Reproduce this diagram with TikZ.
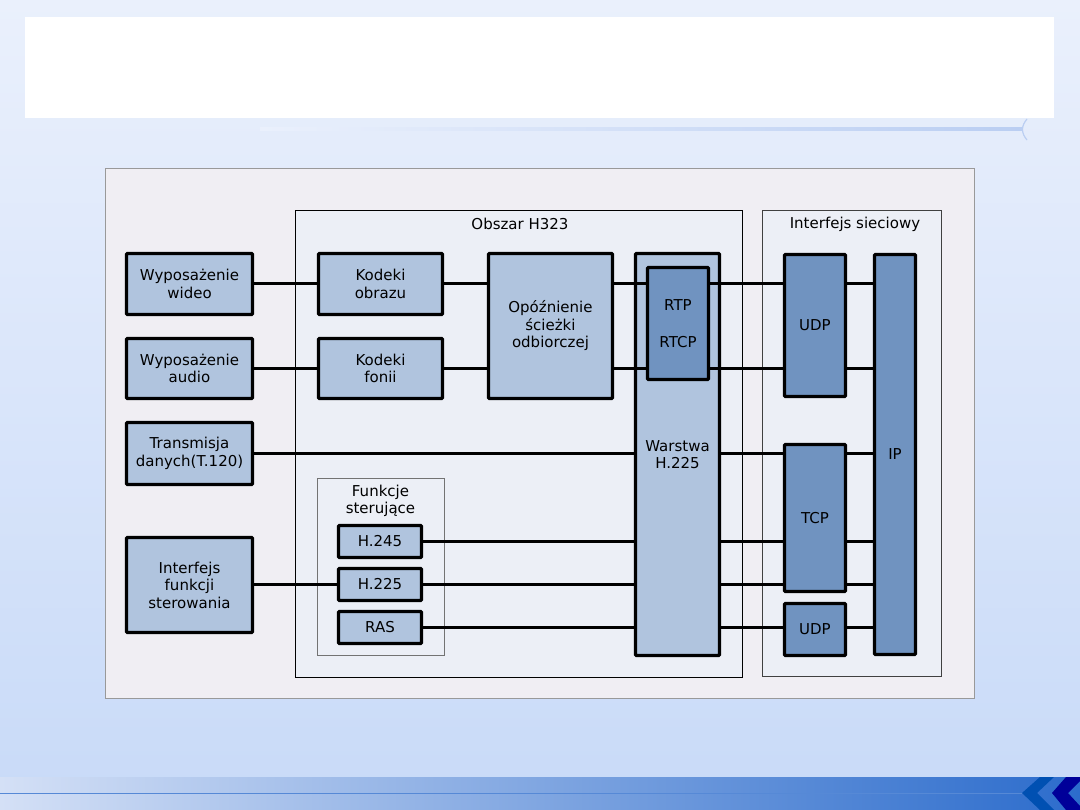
\documentclass[tikz,border=0pt]{standalone}
\usepackage{fontspec}
\setmainfont{DejaVu Sans}
\usepackage{tikz}
\usetikzlibrary{calc}
\usepackage{xcolor}
\definecolor{blokjasny}{RGB}{176,196,222}
\definecolor{blokciemny}{RGB}{112,147,192}
\definecolor{tlopanelu}{RGB}{240,238,243}
\definecolor{tloobszaru}{RGB}{236,239,246}
\definecolor{tlogora}{RGB}{234,240,252}
\definecolor{tlodol}{RGB}{200,218,248}
\definecolor{paseklewy}{RGB}{212,224,246}
\definecolor{pasekprawy}{RGB}{44,108,204}
\definecolor{liniacienka}{RGB}{186,206,242}
\newcommand{\tekst}{\fontsize{15}{17.5}\selectfont}

\begin{document}
\begin{tikzpicture}[x=1pt,y=-1pt]
\tikzstyle{every node}=[font=\tekst, align=center, inner sep=0pt]
\tikzstyle{blok}=[draw, line width=3.2pt, fill=blokjasny, rounded corners=1pt]
\tikzstyle{blokc}=[blok, fill=blokciemny]
\tikzstyle{polaczenie}=[line width=3pt]
\tikzstyle{ramka}=[line width=0.9pt, fill=tloobszaru]
\useasboundingbox (0,0) rectangle (1080,810);
% tlo slajdu
\shade[top color=tlogora, bottom color=tlodol] (0,0) rectangle (1080,810);
\fill[white] (25,17) rectangle (1054,118);
\shade[left color=tlogora, right color=liniacienka] (260,128) rectangle (1022,131);
\draw[liniacienka, line width=1.2pt] (1027,119) .. controls (1021,126) and (1021,133) .. (1027,140);
\shade[left color=paseklewy, right color=pasekprawy] (0,777) rectangle (1080,810);
\draw[pasekprawy!80, line width=0.6pt] (0,793) -- (1022,793);
\fill[blue!55!cyan!70!black] (1040,777) -- (1054,777) -- (1037,793) -- (1054,810) -- (1040,810) -- (1022,793) -- cycle;
\fill[blue!60!black] (1066,777) -- (1080,777) -- (1080,781) -- (1068,793) -- (1080,806) -- (1080,810) -- (1066,810) -- (1052,793) -- cycle;
% panel i ramki
\filldraw[fill=tlopanelu, draw=black!40, line width=0.8pt] (105,168) rectangle (974,698);
\filldraw[ramka, draw=black] (295,210) rectangle (742,677);
\filldraw[ramka, draw=black!75] (762,210) rectangle (941,676);
\filldraw[ramka, draw=black!55] (317,478) rectangle (444,655);
\node (obszar) at (520,224) {Obszar H323};
\node (siec) at (855,224) {Interfejs sieciowy};
\node (funkcje) at (380.5,501) {Funkcje\\sterujące};
% bloki
\node[blok, minimum width=126, minimum height=61] (wideo) at (189.5,284) {Wyposażenie\\wideo};
\node[blok, minimum width=126, minimum height=60] (audio) at (189.5,368.5) {Wyposażenie\\audio};
\node[blok, minimum width=126, minimum height=62] (dane) at (189.5,453.5) {Transmisja\\danych(T.120)};
\node[blok, minimum width=126, minimum height=95] (sterif) at (189.5,585) {Interfejs\\funkcji\\sterowania};
\node[blok, minimum width=124, minimum height=61] (obraz) at (380.5,284) {Kodeki\\obrazu};
\node[blok, minimum width=124, minimum height=60] (fonia) at (380.5,368.5) {Kodeki\\fonii};
\node[blok, minimum width=124, minimum height=145] (opozn) at (550.5,326) {Opóźnienie\\ścieżki\\odbiorczej};
\node[blok, minimum width=84, minimum height=402] (warstwa) at (677.5,454.5) {Warstwa\\H.225};
\node[blokc, minimum width=61, minimum height=112] (rtp) at (678,323.5) {RTP\\[20pt]RTCP};
\node[blok, minimum width=83, minimum height=32] (h245) at (380,541.5) {H.245};
\node[blok, minimum width=83, minimum height=32] (h225) at (380,584.5) {H.225};
\node[blok, minimum width=83, minimum height=32] (ras) at (380,627.5) {RAS};
\node[blokc, minimum width=61, minimum height=142] (udpa) at (815,325.5) {UDP};
\node[blokc, minimum width=61, minimum height=147] (tcp) at (815,518) {TCP};
\node[blokc, minimum width=61, minimum height=52] (udpb) at (815,629.5) {UDP};
\node[blokc, minimum width=41, minimum height=400] (ip) at (895,454.5) {IP};
% polaczenia
\draw[polaczenie] (wideo.east) -- (obraz.west);
\draw[polaczenie] (audio.east) -- (fonia.west);
\draw[polaczenie] (sterif.east |- h225.west) -- (h225.west);
\foreach \z in {obraz,fonia}{
  \draw[polaczenie] (\z.east) -- (opozn.west |- \z.east);
  \draw[polaczenie] (opozn.east |- \z.east) -- (rtp.west |- \z.east);
  \draw[polaczenie] (rtp.east |- \z.east) -- (udpa.west |- \z.east);
  \draw[polaczenie] (udpa.east |- \z.east) -- (ip.west |- \z.east);
}
\foreach \z in {dane,h245,h225,ras}{
  \draw[polaczenie] (\z.east) -- (warstwa.west |- \z.east);
}
\foreach \z/\w in {dane/tcp,h245/tcp,h225/tcp,ras/udpb}{
  \draw[polaczenie] (warstwa.east |- \z.east) -- (\w.west |- \z.east);
  \draw[polaczenie] (\w.east |- \z.east) -- (ip.west |- \z.east);
}
\end{tikzpicture}
\end{document}
